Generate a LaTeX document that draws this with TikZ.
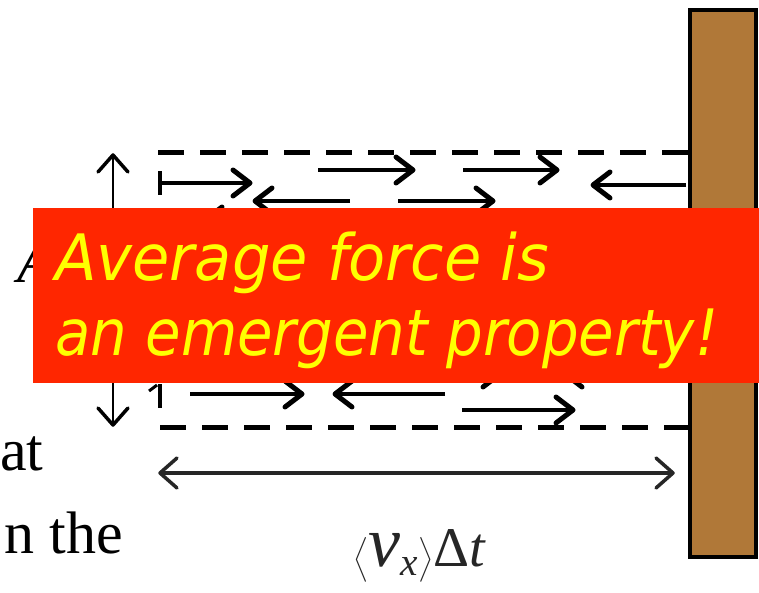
\documentclass[tikz,border=0pt]{standalone}
\usepackage{amsmath}
\usepackage{fontspec}
\setmainfont{Liberation Serif}
\newfontfamily\comicfont{DejaVu Sans}
\usetikzlibrary{arrows.meta,calc,decorations.markings}
\definecolor{wallbrown}{HTML}{B07838}
\definecolor{boxred}{HTML}{FF2600}
\definecolor{txtyellow}{HTML}{FFFF00}
\tikzset{
  headstroke/.style={line width=5pt, line cap=round, line join=round},
  dashline/.style={line width=5pt, dash pattern=on 26pt off 16pt},
  molarrow/.style={line width=4.5pt, postaction={decorate, decoration={markings,
     mark=at position 1 with {\draw[headstroke] (-17pt,-13pt) -- (0pt,0pt) -- (-17pt,13pt);}}}},
  molbar/.style={molarrow, postaction={decorate, decoration={markings,
     mark=at position 0 with {\draw[line width=4.5pt] (0pt,-12pt) -- (0pt,12pt);}}}},
  dimarrow/.style={line width=2.8pt, postaction={decorate, decoration={markings,
     mark=at position 0 with {\draw[headstroke, line width=3.5pt] (17pt,-15pt) -- (0pt,0pt) -- (17pt,15pt);},
     mark=at position 1 with {\draw[headstroke, line width=3.5pt] (-17pt,-15pt) -- (0pt,0pt) -- (-17pt,15pt);}}}},
  sidetext/.style={inner sep=0pt, font=\fontsize{60}{60}\selectfont},
}
\begin{document}
\begin{tikzpicture}[x=1pt,y=-1pt]
\useasboundingbox (0,0) rectangle (759,593);
\fill[white] (0,0) rectangle (759,593);

% wall
\node[draw=black, line width=4pt, fill=wallbrown, minimum width=66pt, minimum height=547pt, inner sep=0pt, anchor=north west] (wall) at (688,8) {};

% dashed boundary lines
\coordinate (tl) at (158,153);
\coordinate (bl) at (160,427);
\draw[dashline] (tl) -- (tl -| wall.west);
\draw[dashline] (bl) -- (bl -| wall.west);

% vertical dimension arrow
\coordinate (vt) at (113,155);
\coordinate (vb) at (113,425);
\draw[dimarrow] (vt) -- (vb);
\node[inner sep=0pt, anchor=base west, font=\fontsize{62}{62}\selectfont\itshape] (alabel) at (17,283) {A};

% molecules, upper part
\coordinate (a1s) at (160,183); \coordinate (a1e) at (250,183);
\coordinate (a2s) at (318,170); \coordinate (a2e) at (413,170);
\coordinate (a3s) at (463,170); \coordinate (a3e) at (557,170);
\coordinate (a4s) at (350,201); \coordinate (a4e) at (255,201);
\coordinate (a5s) at (398,201); \coordinate (a5e) at (493,201);
\coordinate (a6s) at (686,185); \coordinate (a6e) at (593,185);
\coordinate (a7s) at (300,220); \coordinate (a7e) at (205,220);
\draw[molbar] (a1s) -- (a1e);
\draw[molarrow] (a2s) -- (a2e);
\draw[molarrow] (a3s) -- (a3e);
\draw[molarrow] (a4s) -- (a4e);
\draw[molarrow] (a5s) -- (a5e);
\draw[molarrow] (a6s) -- (a6e);
\draw[molarrow] (a7s) -- (a7e);

% molecules, lower part
\coordinate (b0t) at (160,384); \coordinate (b0b) at (160,408);
\coordinate (b0x) at (149,391); \coordinate (b0y) at (157,385);
\coordinate (b1s) at (190,394); \coordinate (b1e) at (302,394);
\coordinate (b2s) at (445,394); \coordinate (b2e) at (335,394);
\coordinate (b3s) at (462,410); \coordinate (b3e) at (573,410);
\coordinate (b4s) at (400,374); \coordinate (b4e) at (500,374);
\coordinate (b5s) at (660,374); \coordinate (b5e) at (565,374);
\draw[line width=4.5pt] (b0t) -- (b0b);
\draw[line width=3pt] (b0x) -- (b0y);
\draw[molarrow] (b1s) -- (b1e);
\draw[molarrow] (b2s) -- (b2e);
\draw[molarrow] (b3s) -- (b3e);
\draw[molarrow] (b4s) -- (b4e);
\draw[molarrow] (b5s) -- (b5e);

% horizontal dimension arrow
\coordinate (hl) at (160,473);
\coordinate (hr) at (673,473);
\draw[dimarrow, line width=3.2pt, draw=black!85] (hl) -- (hr);
\node[inner sep=0pt, anchor=base west, text=black!85, font=\fontsize{56}{66}\selectfont] (vlabel) at (353,566)
  {$\Bigl\langle$\textit{\fontsize{72}{72}\selectfont v}\textsubscript{\textit{x}}$\Bigr\rangle$Δ\textit{t}};

% cut-off sentence text at left
\node[sidetext, anchor=base west] (t1) at (0,470) {at};
\node[sidetext, anchor=base east] (t2) at (123,553) {n the};

% red callout
\node[fill=boxred, minimum width=726pt, minimum height=175pt, inner sep=0pt, anchor=north west] (callout) at (33,208) {};
\node[inner sep=0pt, anchor=base west, text=txtyellow] (line1) at (55,280)
  {\resizebox{494pt}{\height}{\comicfont\itshape\fontsize{64}{64}\selectfont Average force is}};
\node[inner sep=0pt, anchor=base west, text=txtyellow] (line2) at (55,355)
  {\resizebox{663pt}{\height}{\comicfont\itshape\fontsize{64}{64}\selectfont an emergent property!}};
\end{tikzpicture}
\end{document}
